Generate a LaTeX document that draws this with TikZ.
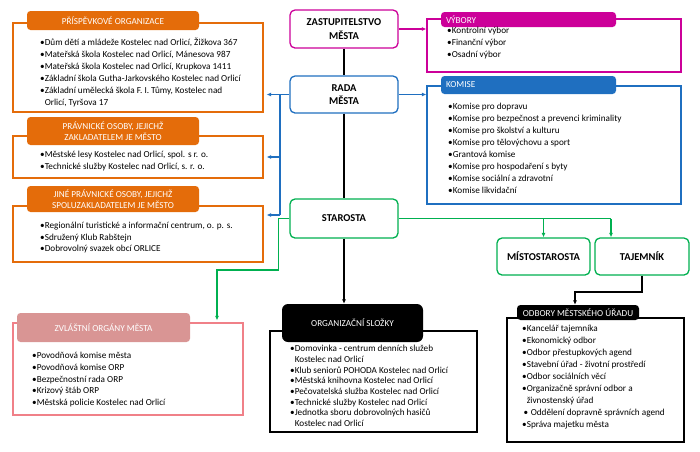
\documentclass[tikz,border=0pt]{standalone}
\usepackage{fontspec}
\setmainfont{Carlito}
\usepackage{xcolor}
\usetikzlibrary{arrows.meta,positioning,calc}
\definecolor{cmag}{HTML}{CC0099}
\definecolor{cblue}{HTML}{1F6FC0}
\definecolor{cgreen}{HTML}{00B050}
\definecolor{corange}{HTML}{E46C0A}
\definecolor{cpink}{HTML}{F08088}
\definecolor{cpinkfill}{HTML}{D99594}
\newcommand{\bl}{•}
\newcommand{\cn}{\hphantom{•}}

\begin{document}
\begin{tikzpicture}[x=1pt,y=-1pt,>={Latex[length=4.5pt,width=4pt]},
                    main node/.style={draw,rounded corners=5pt,line width=1.3pt,fill=white,align=center,
                                      inner sep=0pt,font=\fontsize{10.5}{13.5}\selectfont\bfseries},
                    frame node/.style={draw,line width=1.1pt,inner sep=0pt},
                    tab node/.style={rounded corners=3.5pt,text=white,inner sep=0pt,align=center,
                                     font=\fontsize{9.2}{10.5}\selectfont},
                    list node/.style={anchor=north west,align=left,inner sep=0pt,
                                      execute at begin node={\rule{0pt}{8pt}}},
                    conn/.style={line width=1.3pt}]
  \useasboundingbox (0,0) rectangle (700,451);
%main section
  \node[main node,draw=cmag,minimum width=108,minimum height=38] (zast) at (344,29) {ZASTUPITELSTVO\\MĚSTA};
  \node[main node,draw=cblue,minimum width=108,minimum height=37] (rada) at (344,94.5) {RADA\\MĚSTA};
  \node[main node,draw=cgreen,minimum width=108,minimum height=39] (star) at (344,218.5) {STAROSTA};
  \node[main node,draw=cgreen,minimum width=93,minimum height=37] (mist) at (543.5,256.5) {MÍSTOSTAROSTA};
  \node[main node,draw=cgreen,minimum width=94,minimum height=37] (taj) at (642,256.5) {TAJEMNÍK};
%right section
  \node[frame node,draw=cmag,minimum width=254,minimum height=53] (vybframe) at (554,45.5) {};
  \node[tab node,fill=cmag,text width=165,align=left,inner xsep=5pt,minimum height=15] (vybtab) at (528.5,19.5) {VÝBORY};
  \node[list node,font=\fontsize{9.2}{12}\selectfont] (vyblist) at (447,27) {\bl Kontrolní výbor\\\bl Finanční výbor\\\bl Osadní výbor};

  \node[frame node,draw=cblue,minimum width=254,minimum height=118] (komframe) at (554,145) {};
  \node[tab node,fill=cblue,text width=165,align=left,inner xsep=5pt,minimum height=18] (komtab) at (528.5,85) {KOMISE};
  \node[list node,font=\fontsize{9.2}{12}\selectfont] (komlist) at (448,103) {\bl Komise pro dopravu\\
    \bl Komise pro bezpečnost a prevenci kriminality\\\bl Komise pro školství a kulturu\\
    \bl Komise pro tělovýchovu a sport\\\bl Grantová komise\\\bl Komise pro hospodaření s byty\\
    \bl Komise sociální a zdravotní\\\bl Komise likvidační};
%left section
  \node[frame node,draw=corange,minimum width=250,minimum height=89] (prispframe) at (138,67.5) {};
  \node[tab node,fill=corange,minimum width=172,minimum height=19] (prisptab) at (113,20.5) {PŘÍSPĚVKOVÉ ORGANIZACE};
  \node[list node,font=\fontsize{9.2}{12}\selectfont] (prisplist) at (40,38) {\bl Dům dětí a mládeže Kostelec nad Orlicí, Žižkova 367\\
    \bl Mateřská škola Kostelec nad Orlicí, Mánesova 987\\\bl Mateřská škola Kostelec nad Orlicí, Krupkova 1411\\
    \bl Základní škola Gutha-Jarkovského Kostelec nad Orlicí\\\bl Základní umělecká škola F. I. Tůmy, Kostelec nad\\
    \cn Orlicí, Tyršova 17};

  \node[frame node,draw=corange,minimum width=250,minimum height=42] (pravnframe) at (138,157) {};
  \node[tab node,fill=corange,minimum width=172,minimum height=28] (pravntab) at (113,131) {PRÁVNICKÉ OSOBY, JEJICHŽ\\ZAKLADATELEM JE MĚSTO};
  \node[list node,font=\fontsize{9.2}{12}\selectfont] (pravnlist) at (40,151) {\bl Městské lesy Kostelec nad Orlicí, spol. s r. o.\\
    \bl Technické služby Kostelec nad Orlicí, s. r. o.};

  \node[frame node,draw=corange,minimum width=250,minimum height=56] (jineframe) at (138,234) {};
  \node[tab node,fill=corange,minimum width=172,minimum height=26] (jinetab) at (113,199) {JINÉ PRÁVNICKÉ OSOBY, JEJICHŽ\\SPOLUZAKLADATELEM JE MĚSTO};
  \node[list node,font=\fontsize{9.2}{11.5}\selectfont] (jinelist) at (40,222) {\bl Regionální turistické a informační centrum, o. p. s.\\
    \bl Sdružený Klub Rabštejn\\\bl Dobrovolný svazek obcí ORLICE};
%bottom section
  \node[frame node,draw=cpink,minimum width=230,minimum height=92] (zvlframe) at (128,369) {};
  \node[tab node,fill=cpinkfill,minimum width=173,minimum height=29] (zvltab) at (103.5,327.5) {ZVLÁŠTNÍ ORGÁNY MĚSTA};
  \node[list node,font=\fontsize{9.2}{11.75}\selectfont] (zvllist) at (32,352) {\bl Povodňová komise města\\
    \bl Povodňová komise ORP\\\bl Bezpečnostní rada ORP\\\bl Krizový štáb ORP\\\bl Městská policie Kostelec nad Orlicí};

  \node[frame node,draw=black,minimum width=207,minimum height=101] (orgframe) at (373.5,381.5) {};
  \node[tab node,fill=black,minimum width=141,minimum height=38,rounded corners=6pt] (orgtab) at (352.5,323) {ORGANIZAČNÍ SLOŽKY};
  \node[list node,font=\fontsize{9.2}{10.7}\selectfont] (orglist) at (290,345) {\bl Domovinka - centrum denních služeb\\
    \cn Kostelec nad Orlicí\\\bl Klub seniorů POHODA Kostelec nad Orlicí\\\bl Městská knihovna Kostelec nad Orlicí\\
    \bl Pečovatelská služba Kostelec nad Orlicí\\\bl Technické služby Kostelec nad Orlicí\\
    \bl Jednotka sboru dobrovolných hasičů\\\cn Kostelec nad Orlicí};

  \node[frame node,draw=black,minimum width=177,minimum height=124] (odbframe) at (595.5,380) {};
  \node[tab node,fill=black,minimum width=122,minimum height=15] (odbtab) at (578,312.5) {ODBORY MĚSTSKÉHO ÚŘADU};
  \node[list node,font=\fontsize{9.2}{12}\selectfont] (odblist) at (522,325) {\bl Kancelář tajemníka\\
    \bl Ekonomický odbor\\\bl Odbor přestupkových agend\\\bl Stavební úřad - životní prostředí\\
    \bl Odbor sociálních věcí\\\bl Organizačně správní odbor a\\\cn živnostenský úřad\\
    \hspace{1.5pt}•\hspace{2.5pt}Oddělení dopravně správních agend\\\bl Správa majetku města};
%connectors
  \coordinate (bj) at (280,94.5);
  \coordinate (bk) at (280,215);
  \coordinate (gz) at (217,270);
  \coordinate (gt) at (611,218.5);
  \coordinate (bt) at (575,292);

  \draw[conn,line width=1.8pt] (zast) -- (rada);
  \draw[conn,line width=1.8pt] (rada) -- (star);
  \draw[conn,line width=1.8pt,->] (star.south) -- (star.south |- orgtab.north);
  \draw[conn,cmag,->] (zast.east) -- (vybframe.west |- zast.east);
  \draw[conn,cblue,->] (rada.east) -- (komframe.west |- rada.east);

  \draw[conn,cblue] (rada.west) -- (bj) -- (bk);
  \draw[conn,cblue,->,shorten >=3pt] (bj) -- (prispframe.east |- bj);
  \draw[conn,cblue,->,shorten >=3pt] (bj |- pravnframe.east) -- (pravnframe.east);
  \draw[conn,cblue,->,shorten >=3pt] (bk) -- (jineframe.east |- bk);

  \draw[conn,cgreen,->,shorten >=2pt] (star.west) -- ++(-11,0) |- (gz) -- (gz |- zvlframe.north);
  \draw[conn,cgreen] (star.east) -- (gt);
  \draw[conn,cgreen,->] (mist.north |- gt) -- (mist.north);
  \draw[conn,cgreen,->] (gt) -- (gt |- taj.north);

  \draw[conn,line width=1.8pt,->] (taj.south) |- (bt) -- (bt |- odbtab.north);
\end{tikzpicture}
\end{document}
